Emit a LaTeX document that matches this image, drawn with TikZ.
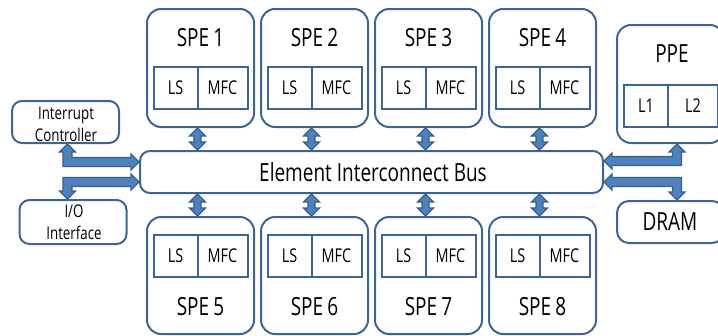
\documentclass[tikz,border=0pt]{standalone}
\usepackage{fontspec}
\setmainfont{Open Sans}[FakeStretch=0.76]
\usetikzlibrary{calc}

\definecolor{edge}{HTML}{3C6497}
\definecolor{arrowfill}{HTML}{4F81BD}
\definecolor{arrowedge}{HTML}{3A5F8F}

\newcommand\fsLarge{\fontsize{25}{28}\selectfont}
\newcommand\fsCell{\fontsize{19}{22}\selectfont}
\newcommand\fsSmall{\fontsize{17.5}{22}\selectfont}

% fat arrow dimensions
\newcommand\fhW{8pt}   % half width of a head
\newcommand\fhL{8pt}   % head length
\newcommand\fvS{3.5pt} % half shaft, short vertical arrows
\newcommand\flS{4.5pt} % half shaft, bent arrows

% vertical two-headed fat arrow: #1 upper tip, #2 lower tip (x taken from #1)
\newcommand\vfat[2]{%
  \filldraw[fatarrow] let \p1=(#1), \p2=(#2) in
  (\x1,\y1) -- (\x1+\fhW,\y1-\fhL) -- (\x1+\fvS,\y1-\fhL) -- (\x1+\fvS,\y2+\fhL)
  -- (\x1+\fhW,\y2+\fhL) -- (\x1,\y2) -- (\x1-\fhW,\y2+\fhL) -- (\x1-\fvS,\y2+\fhL)
  -- (\x1-\fvS,\y1-\fhL) -- (\x1-\fhW,\y1-\fhL) -- cycle;}

% bent two-headed fat arrow: #1 horizontal tip, #2 vertical tip,
% #3 x direction of the horizontal tip, #4 y direction of the vertical tip
\newcommand\lfat[4]{%
  \filldraw[fatarrow] let \p1=(#1), \p2=(#2) in
  (\x1,\y1)
  -- ({\x1-#3*\fhL},{\y1+#4*\fhW})
  -- ({\x1-#3*\fhL},{\y1+#4*\flS})
  -- ({\x2+#3*\flS},{\y1+#4*\flS})
  -- ({\x2+#3*\flS},{\y2-#4*\fhL})
  -- ({\x2+#3*\fhW},{\y2-#4*\fhL})
  -- (\x2,\y2)
  -- ({\x2-#3*\fhW},{\y2-#4*\fhL})
  -- ({\x2-#3*\flS},{\y2-#4*\fhL})
  -- ({\x2-#3*\flS},{\y1-#4*\flS})
  -- ({\x1-#3*\fhL},{\y1-#4*\flS})
  -- ({\x1-#3*\fhL},{\y1-#4*\fhW})
  -- cycle;}

\begin{document}
\begin{tikzpicture}[x=1pt,y=-1pt,
  unit/.style={draw=edge, line width=2pt, rounded corners=14pt,
    minimum width=107pt, minimum height=118pt, inner sep=0pt},
  cell/.style={draw=edge, line width=2pt, minimum height=42pt,
    inner sep=0pt, outer sep=0pt, font=\fsCell},
  io/.style={draw=edge, line width=2pt, rounded corners=10pt,
    minimum width=107pt, inner sep=0pt},
  iotext/.style={inner sep=0pt, align=center, font=\fsSmall},
  lbl/.style={inner sep=0pt, font=\fsLarge},
  fatarrow/.style={fill=arrowfill, draw=arrowedge, line width=1.3pt, line join=miter}]

\useasboundingbox (0,0) rectangle (718,335);

% bus
\node[draw=edge, line width=2pt, rounded corners=10pt, minimum width=463pt,
  minimum height=42pt, inner sep=0pt] (bus) at (371.5,172) {};
\node[lbl] (buslbl) at (373,172) {Element Interconnect Bus};

% upper and lower rows of SPEs
\foreach \i/\j/\x in {1/5/147, 2/6/261, 3/7/375, 4/8/489} {
  \node[unit] (spe\i) at (\x+53.5,68) {};
  \node[cell, minimum width=44pt] (ls\i) at (\x+28.5,88) {LS};
  \node[cell, minimum width=50pt] (mfc\i) at (\x+75.5,88) {MFC};
  \node[lbl] (lbl\i) at (\x+53.5,38) {SPE\,\i};
  \vfat{mfc\i.west |- spe\i.south}{mfc\i.west |- bus.north}

  \node[unit, minimum height=117pt] (spe\j) at (\x+53.5,275.5) {};
  \node[cell, minimum width=44pt] (ls\j) at (\x+28.5,255.5) {LS};
  \node[cell, minimum width=50pt] (mfc\j) at (\x+75.5,255.5) {MFC};
  \node[lbl] (lbl\j) at (\x+53.5,306.5) {SPE\,\j};
  \vfat{mfc\j.west |- bus.south}{mfc\j.west |- spe\j.north}
}

% PPE with its caches
\node[unit] (ppe) at (670.5,84) {};
\node[cell, minimum width=44pt] (l1) at (646,105.5) {L1};
\node[cell, minimum width=50pt] (l2) at (693,105.5) {L2};
\node[lbl] (ppelbl) at (672,54) {PPE};

% DRAM
\node[unit, minimum height=42pt, rounded corners=12pt] (dram) at (670.5,222) {};
\node[lbl] (dramlbl) at (670,222) {DRAM};

% interrupt controller and I/O interface
\node[io, minimum height=42pt] (ic) at (65.5,122) {};
\node[iotext] (ictext) at (66,124) {Interrupt\\Controller};
\node[io, minimum height=44pt] (ioif) at (73,222) {};
\node[iotext] (iotxt) at (74,222.5) {I/O\\Interface};

% ports on the bus and drop points of the bent arrows
\coordinate (busIC) at ([yshift=10pt]bus.west);
\coordinate (busIO) at ([yshift=-10pt]bus.west);
\coordinate (busPPE) at ([yshift=11pt]bus.east);
\coordinate (busDRAM) at ([yshift=-10pt]bus.east);
\coordinate (icdrop) at ([xshift=2pt]ic.south);
\coordinate (ppedrop) at ([xshift=6.5pt]ppe.south);

\lfat{busIC}{icdrop}{1}{1}
\lfat{busIO}{icdrop |- ioif.north}{1}{-1}
\lfat{busPPE}{ppedrop}{-1}{1}
\lfat{busDRAM}{ppedrop |- dram.north}{-1}{-1}
\end{tikzpicture}
\end{document}
